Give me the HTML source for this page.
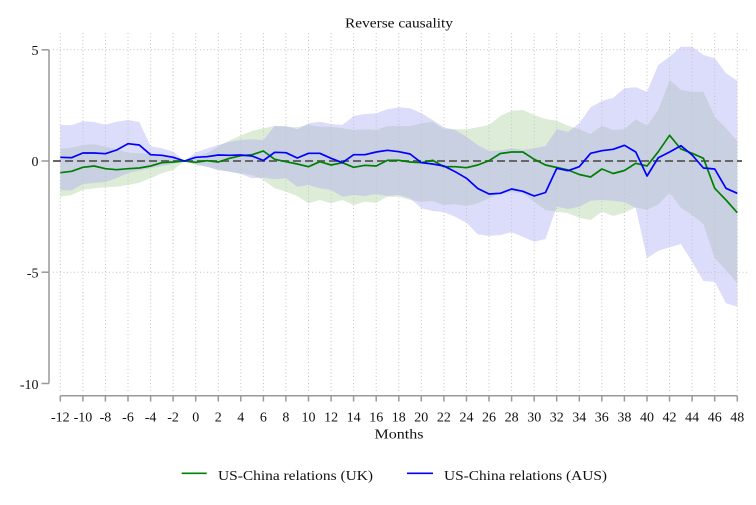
<!DOCTYPE html>
<html><head><meta charset="utf-8"><style>
html,body{margin:0;padding:0;background:#fff;}
svg{display:block;}
text{font-family:"Liberation Serif",serif;fill:#111;}
</style></head><body>
<svg width="756" height="505" viewBox="0 0 756 505" xmlns="http://www.w3.org/2000/svg">
<rect width="756" height="505" fill="#fff"/>
<defs>
<clipPath id="bclip" clipPathUnits="userSpaceOnUse">
<polygon points="-12,125 -11,125.3 -10,121.3 -9,122 -8,124.7 -7,121.7 -6,120 -5,122 -4,146.3 -3,148.3 -2,151.7 -1,161 0,152.5 1,148.5 2,145 3,141.7 4,140 5,139.3 6,140 7,126 8,126 9,129.3 10,123.3 11,121.7 12,124 13,125 14,116 15,114 16,113.3 17,109.3 18,107.3 19,108.3 20,113.3 21,120 22,127.3 23,130 24,136.7 25,145 26,151 27,150.5 28,148.3 29,150 30,148.3 31,146 32,129.3 33,131.7 34,123.3 35,107.3 36,101 37,97.7 38,88.3 39,87.3 40,91.7 41,65 42,56.7 43,46.7 44,46.7 45,55 46,58.3 47,73.3 48,80.7 48,306.7 47,303.3 46,281.7 45,281 44,261.7 43,244 42,247.3 41,250.7 40,258.3 39,208 38,202.3 37,200.7 36,200 35,200.7 34,206.7 33,209 32,206.7 31,239 30,241.7 29,236.7 28,232.3 27,235 26,236 25,234.3 24,222.7 23,216.7 22,212.3 21,211 20,208.3 19,198.3 18,195 17,196 16,194 15,196 14,195 13,196.7 12,190 11,188.3 10,185 9,186.7 8,178.3 7,179.3 6,177.5 5,178.3 4,174 3,171.7 2,170 1,166.7 0,164.3 -1,161 -2,164 -3,166 -4,168.3 -5,170.5 -6,173 -7,178 -8,182 -9,183 -10,184 -11,190.5 -12,190"/>
</clipPath>
</defs>

<g transform="translate(195.7 0) scale(11.283 1)">
<!-- blue band -->
<polygon fill="#dcdcfb" points="-12,125 -11,125.3 -10,121.3 -9,122 -8,124.7 -7,121.7 -6,120 -5,122 -4,146.3 -3,148.3 -2,151.7 -1,161 0,152.5 1,148.5 2,145 3,141.7 4,140 5,139.3 6,140 7,126 8,126 9,129.3 10,123.3 11,121.7 12,124 13,125 14,116 15,114 16,113.3 17,109.3 18,107.3 19,108.3 20,113.3 21,120 22,127.3 23,130 24,136.7 25,145 26,151 27,150.5 28,148.3 29,150 30,148.3 31,146 32,129.3 33,131.7 34,123.3 35,107.3 36,101 37,97.7 38,88.3 39,87.3 40,91.7 41,65 42,56.7 43,46.7 44,46.7 45,55 46,58.3 47,73.3 48,80.7 48,306.7 47,303.3 46,281.7 45,281 44,261.7 43,244 42,247.3 41,250.7 40,258.3 39,208 38,202.3 37,200.7 36,200 35,200.7 34,206.7 33,209 32,206.7 31,239 30,241.7 29,236.7 28,232.3 27,235 26,236 25,234.3 24,222.7 23,216.7 22,212.3 21,211 20,208.3 19,198.3 18,195 17,196 16,194 15,196 14,195 13,196.7 12,190 11,188.3 10,185 9,186.7 8,178.3 7,179.3 6,177.5 5,178.3 4,174 3,171.7 2,170 1,166.7 0,164.3 -1,161 -2,164 -3,166 -4,168.3 -5,170.5 -6,173 -7,178 -8,182 -9,183 -10,184 -11,190.5 -12,190"/>
<!-- green band -->
<polygon id="gband" fill="#dcecd7" points="-12,149 -11,147.7 -10,145 -9,144.3 -8,146.7 -7,149.3 -6,152.7 -5,153.3 -4,154 -3,155 -2,156.7 -1,161 0,156.7 1,153.3 2,146.5 3,140.5 4,135.5 5,131 6,128.3 7,126 8,126.7 9,127.3 10,125 11,126.7 12,126.7 13,128.3 14,130 15,129.3 16,130 17,126 18,126 19,126 20,123.3 21,121.7 22,129.3 23,129.3 24,129.3 25,127.3 26,125 27,116 28,110.7 29,110 30,115 31,119 32,120.7 33,125.7 34,129.3 35,134 36,125.7 37,130 38,129.3 39,119.3 40,125.7 41,110 42,80 43,90 44,91.7 45,91.7 46,116.7 47,128.3 48,141 48,283.3 47,270 46,258.3 45,224.3 44,215 43,207.7 42,192.7 41,204.3 40,210 39,207.3 38,212.7 37,216 36,211.7 35,220 34,217.7 33,213.3 32,211.7 31,210 30,201.7 29,193.3 28,192.3 27,193.3 26,198.3 25,203.3 24,206 23,204.3 22,205 21,201 20,201.7 19,200 18,196.7 17,196.7 16,202.7 15,201.7 14,205 13,200 12,203.3 11,200 10,203.3 9,196 8,191.7 7,188.3 6,180 5,175 4,173.3 3,171.7 2,170 1,166.7 0,165 -1,161 -2,170 -3,173.3 -4,178.3 -5,182.7 -6,185 -7,186.7 -8,187.3 -9,188.3 -10,190 -11,195 -12,196.7"/>
<!-- overlap -->
<g clip-path="url(#bclip)">
<polygon fill="#c8d0e1" points="-12,149 -11,147.7 -10,145 -9,144.3 -8,146.7 -7,149.3 -6,152.7 -5,153.3 -4,154 -3,155 -2,156.7 -1,161 0,156.7 1,153.3 2,146.5 3,140.5 4,135.5 5,131 6,128.3 7,126 8,126.7 9,127.3 10,125 11,126.7 12,126.7 13,128.3 14,130 15,129.3 16,130 17,126 18,126 19,126 20,123.3 21,121.7 22,129.3 23,129.3 24,129.3 25,127.3 26,125 27,116 28,110.7 29,110 30,115 31,119 32,120.7 33,125.7 34,129.3 35,134 36,125.7 37,130 38,129.3 39,119.3 40,125.7 41,110 42,80 43,90 44,91.7 45,91.7 46,116.7 47,128.3 48,141 48,283.3 47,270 46,258.3 45,224.3 44,215 43,207.7 42,192.7 41,204.3 40,210 39,207.3 38,212.7 37,216 36,211.7 35,220 34,217.7 33,213.3 32,211.7 31,210 30,201.7 29,193.3 28,192.3 27,193.3 26,198.3 25,203.3 24,206 23,204.3 22,205 21,201 20,201.7 19,200 18,196.7 17,196.7 16,202.7 15,201.7 14,205 13,200 12,203.3 11,200 10,203.3 9,196 8,191.7 7,188.3 6,180 5,175 4,173.3 3,171.7 2,170 1,166.7 0,165 -1,161 -2,170 -3,173.3 -4,178.3 -5,182.7 -6,185 -7,186.7 -8,187.3 -9,188.3 -10,190 -11,195 -12,196.7"/>
</g>
</g>

<!-- grid -->
<g stroke="#c4c4c4" stroke-width="1" stroke-dasharray="1 2.5" fill="none">
<line x1="53" y1="49.8" x2="748" y2="49.8"/>
<line x1="53" y1="272.2" x2="748" y2="272.2"/>
<line x1="60.3" y1="33" x2="60.3" y2="393"/>
<line x1="82.9" y1="33" x2="82.9" y2="393"/>
<line x1="105.4" y1="33" x2="105.4" y2="393"/>
<line x1="128" y1="33" x2="128" y2="393"/>
<line x1="150.6" y1="33" x2="150.6" y2="393"/>
<line x1="173.1" y1="33" x2="173.1" y2="393"/>
<line x1="195.7" y1="33" x2="195.7" y2="393"/>
<line x1="218.3" y1="33" x2="218.3" y2="393"/>
<line x1="240.8" y1="33" x2="240.8" y2="393"/>
<line x1="263.4" y1="33" x2="263.4" y2="393"/>
<line x1="285.9" y1="33" x2="285.9" y2="393"/>
<line x1="308.5" y1="33" x2="308.5" y2="393"/>
<line x1="331.1" y1="33" x2="331.1" y2="393"/>
<line x1="353.6" y1="33" x2="353.6" y2="393"/>
<line x1="376.2" y1="33" x2="376.2" y2="393"/>
<line x1="398.8" y1="33" x2="398.8" y2="393"/>
<line x1="421.3" y1="33" x2="421.3" y2="393"/>
<line x1="443.9" y1="33" x2="443.9" y2="393"/>
<line x1="466.5" y1="33" x2="466.5" y2="393"/>
<line x1="489" y1="33" x2="489" y2="393"/>
<line x1="511.6" y1="33" x2="511.6" y2="393"/>
<line x1="534.2" y1="33" x2="534.2" y2="393"/>
<line x1="556.7" y1="33" x2="556.7" y2="393"/>
<line x1="579.3" y1="33" x2="579.3" y2="393"/>
<line x1="601.8" y1="33" x2="601.8" y2="393"/>
<line x1="624.4" y1="33" x2="624.4" y2="393"/>
<line x1="647" y1="33" x2="647" y2="393"/>
<line x1="669.5" y1="33" x2="669.5" y2="393"/>
<line x1="692.1" y1="33" x2="692.1" y2="393"/>
<line x1="714.7" y1="33" x2="714.7" y2="393"/>
<line x1="737.3" y1="33" x2="737.3" y2="393"/>
</g>

<!-- zero line -->
<line x1="53" y1="161" x2="742" y2="161" stroke="#666" stroke-width="2" stroke-dasharray="8 4"/>

<!-- series lines -->
<g transform="translate(195.7 0) scale(11.283 1)" fill="none" stroke-linejoin="round">
<polyline stroke="#008000" stroke-width="1.7" vector-effect="non-scaling-stroke" points="-12,172.7 -11,171.3 -10,167.3 -9,166 -8,168.7 -7,169.7 -6,168.7 -5,168 -4,166 -3,162.7 -2,162 -1,161 0,162.3 1,160.7 2,162 3,158.3 4,155.7 5,154.7 6,151 7,159.3 8,161.7 9,164 10,166.7 11,161.7 12,165 13,162.7 14,167.3 15,165.3 16,166 17,160.3 18,160.3 19,162 20,162.7 21,160.3 22,166.7 23,166.7 24,167.7 25,165 26,160.7 27,153.5 28,152 29,152 30,159.3 31,165 32,167.5 33,170 34,174.5 35,177 36,169 37,173.5 38,170.5 39,163.3 40,166 41,151.7 42,135.3 43,149 44,153.3 45,158.3 46,188.3 47,200 48,212.7"/>
<polyline stroke="#0000ff" stroke-width="1.7" vector-effect="non-scaling-stroke" points="-12,157.3 -11,157.7 -10,153 -9,153 -8,153.7 -7,150 -6,143.7 -5,145 -4,154.7 -3,155.3 -2,157.3 -1,161 0,157.3 1,156.7 2,155 3,155.3 4,155 5,156 6,160.5 7,152.3 8,152.7 9,158 10,153.3 11,153.3 12,158.3 13,162.7 14,154.7 15,154.7 16,152 17,150.3 18,151.7 19,154 20,162.7 21,164 22,166 23,171.7 24,178.3 25,188.5 26,194 27,193.3 28,189 29,191.3 30,196 31,192.5 32,168.3 33,170.7 34,166.7 35,153.3 36,150.7 37,149.3 38,145.3 39,152 40,176 41,157.7 42,152 43,145.7 44,155 45,168 46,169 47,188.3 48,193.3"/>
</g>

<!-- axes -->
<g stroke="#999" stroke-width="1.5" fill="none">
<line x1="49" y1="49.8" x2="49" y2="383.5"/>
<line x1="41.5" y1="49.8" x2="49" y2="49.8"/>
<line x1="41.5" y1="161" x2="49" y2="161"/>
<line x1="41.5" y1="272.2" x2="49" y2="272.2"/>
<line x1="41.5" y1="383.5" x2="49" y2="383.5"/>
<line x1="60.3" y1="395.7" x2="737.3" y2="395.7"/>
<path d="M60.3 395.7V401.5M82.9 395.7V401.5M105.4 395.7V401.5M128 395.7V401.5M150.6 395.7V401.5M173.1 395.7V401.5M195.7 395.7V401.5M218.3 395.7V401.5M240.8 395.7V401.5M263.4 395.7V401.5M285.9 395.7V401.5M308.5 395.7V401.5M331.1 395.7V401.5M353.6 395.7V401.5M376.2 395.7V401.5M398.8 395.7V401.5M421.3 395.7V401.5M443.9 395.7V401.5M466.5 395.7V401.5M489 395.7V401.5M511.6 395.7V401.5M534.2 395.7V401.5M556.7 395.7V401.5M579.3 395.7V401.5M601.8 395.7V401.5M624.4 395.7V401.5M647 395.7V401.5M669.5 395.7V401.5M692.1 395.7V401.5M714.7 395.7V401.5M737.3 395.7V401.5"/>
</g>

<!-- y labels -->
<g font-size="14" text-anchor="end">
<text x="38.5" y="55">5</text>
<text x="38.5" y="166">0</text>
<text x="38.5" y="277.3">-5</text>
<text x="38.5" y="388.8">-10</text>
</g>

<!-- x labels -->
<g font-size="14" text-anchor="middle">
<text x="60.3" y="421.7">-12</text>
<text x="82.9" y="421.7">-10</text>
<text x="105.4" y="421.7">-8</text>
<text x="128" y="421.7">-6</text>
<text x="150.6" y="421.7">-4</text>
<text x="173.1" y="421.7">-2</text>
<text x="195.7" y="421.7">0</text>
<text x="218.3" y="421.7">2</text>
<text x="240.8" y="421.7">4</text>
<text x="263.4" y="421.7">6</text>
<text x="285.9" y="421.7">8</text>
<text x="308.5" y="421.7">10</text>
<text x="331.1" y="421.7">12</text>
<text x="353.6" y="421.7">14</text>
<text x="376.2" y="421.7">16</text>
<text x="398.8" y="421.7">18</text>
<text x="421.3" y="421.7">20</text>
<text x="443.9" y="421.7">22</text>
<text x="466.5" y="421.7">24</text>
<text x="489" y="421.7">26</text>
<text x="511.6" y="421.7">28</text>
<text x="534.2" y="421.7">30</text>
<text x="556.7" y="421.7">32</text>
<text x="579.3" y="421.7">34</text>
<text x="601.8" y="421.7">36</text>
<text x="624.4" y="421.7">38</text>
<text x="647" y="421.7">40</text>
<text x="669.5" y="421.7">42</text>
<text x="692.1" y="421.7">44</text>
<text x="714.7" y="421.7">46</text>
<text x="737.3" y="421.7">48</text>
</g>

<!-- titles -->
<text x="345" y="27.5" font-size="14" textLength="108" lengthAdjust="spacingAndGlyphs">Reverse causality</text>
<text x="374.5" y="438.3" font-size="14" textLength="49" lengthAdjust="spacingAndGlyphs">Months</text>

<!-- legend -->
<line x1="181.7" y1="473.3" x2="206.7" y2="473.3" stroke="#008000" stroke-width="1.7"/>
<text x="218" y="480" font-size="14" textLength="155" lengthAdjust="spacingAndGlyphs">US-China relations (UK)</text>
<line x1="407" y1="473.3" x2="433" y2="473.3" stroke="#0000ff" stroke-width="1.7"/>
<text x="444" y="480" font-size="14" textLength="163" lengthAdjust="spacingAndGlyphs">US-China relations (AUS)</text>
</svg>
</body></html>
